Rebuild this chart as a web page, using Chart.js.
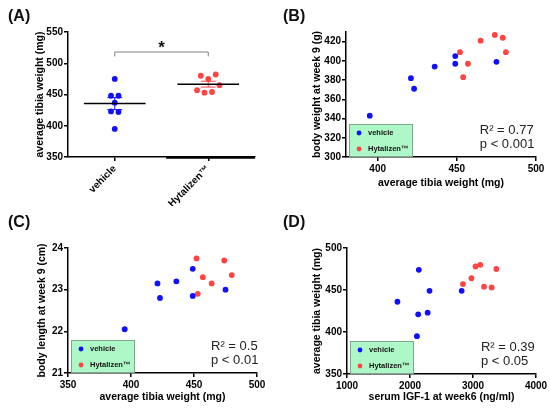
<!DOCTYPE html>
<html>
<head>
<meta charset="utf-8">
<script src="https://cdn.jsdelivr.net/npm/chart.js@4.4.1/dist/chart.umd.min.js"></script>
<style>
  html, body { margin: 0; padding: 0; background: #fff; }
  #wrap { position: relative; width: 550px; height: 413px; overflow: hidden; }
  canvas { position: absolute; }
  .tag { position: absolute; font: bold 16px 'Liberation Sans', Arial, sans-serif; color: #111; }
</style>
</head>
<body>
<div id="wrap">
  <canvas id="chartA" width="275" height="206" style="left:0;top:0"></canvas>
  <canvas id="chartB" width="275" height="206" style="left:275px;top:0"></canvas>
  <canvas id="chartC" width="275" height="207" style="left:0;top:206px"></canvas>
  <canvas id="chartD" width="275" height="207" style="left:275px;top:206px"></canvas>
  <div class="tag" style="left:8px;top:7px">(A)</div>
  <div class="tag" style="left:283px;top:7px">(B)</div>
  <div class="tag" style="left:8px;top:213px">(C)</div>
  <div class="tag" style="left:283px;top:213px">(D)</div>
</div>
<script>
// --- data ---
const groups = ['vehicle', 'Hytalizen™'];

// (A) average tibia weight per animal, with horizontal jitter (category units)
const tibiaVehicleA = [475, 448, 448, 437, 423, 422, 395];
const jitterVehicleA = [0, -0.04, 0.04, 0, -0.04, 0.04, 0];
const tibiaHytalizenA = [480, 475, 482, 457, 453, 454, 465];
const jitterHytalizenA = [-0.08, 0, 0.08, -0.12, -0.04, 0.04, 0.12];
const yTicksA = [350, 400, 450, 500, 550];
const bracketA = [518, 511];   // significance bracket: bar level, leg ends (mg)

// (B) tibia weight vs body weight
const tibiaVehicleB = [395, 421, 423, 436, 449, 449, 475];
const bodyWeightVehicleB = [343, 382, 371, 394, 405, 397, 399];
const tibiaHytalizenB = [452, 457, 454, 465, 474, 479, 481];
const bodyWeightHytalizenB = [409, 397, 383, 421, 427, 424, 409];
const xTicksB = [400, 450, 500];
const yTicksB = [300, 320, 340, 360, 380, 400, 420];
const statsB = ['R² = 0.77', 'p < 0.001'];

// (C) tibia weight vs body length
const tibiaVehicleC = [395, 421, 423, 436, 449, 449, 475];
const bodyLengthVehicleC = [22.05, 23.15, 22.8, 23.2, 23.5, 22.85, 23.0];
const tibiaHytalizenC = [452, 457, 453, 464, 474, 480];
const bodyLengthHytalizenC = [23.75, 23.3, 22.9, 23.15, 23.7, 23.35];
const xTicksC = [350, 400, 450, 500];
const yTicksC = [21, 22, 23, 24];
const statsC = ['R² = 0.5', 'p < 0.01'];

// (D) serum IGF-1 vs tibia weight
const igfVehicleD = [2140, 1800, 2310, 2130, 2280, 2110, 2820];
const tibiaVehicleD = [474, 436, 449, 421, 423, 395, 449];
const igfHytalizenD = [2840, 2975, 3040, 3115, 3175, 3295, 3370];
const tibiaHytalizenD = [457, 464, 478, 480, 454, 453, 475];
const xTicksD = [1000, 2000, 3000, 4000];
const yTicksD = [350, 400, 450, 500];
const statsD = ['R² = 0.39', 'p < 0.05'];

// --- styling ---
const FONT = "'Liberation Sans', Arial, sans-serif";
const BLUE = '#1010ff';
const RED = '#ff4444';
Chart.defaults.font.family = FONT;
Chart.defaults.color = '#000';

const pairs = (xs, ys) => xs.map((x, i) => ({ x, y: ys[i] }));

function axis(horizontal, min, max, tickList, size, titleText, titlePad, labelFn) {
  return {
    type: 'linear',
    min, max,
    border: { display: true, color: '#000', width: 1.5 },
    grid: { display: true, drawOnChartArea: false, drawTicks: true, tickLength: 4, color: '#000', lineWidth: 1.5 },
    ticks: {
      color: '#000',
      font: { size: 10, weight: 'bold' },
      padding: horizontal ? 2 : 1,
      minRotation: labelFn ? 45 : 0,
      maxRotation: labelFn ? 45 : 0,
      callback: labelFn || (v => String(v))
    },
    title: {
      display: !!titleText,
      text: titleText,
      color: '#000',
      font: { size: 10.5, weight: 'bold' },
      padding: horizontal ? { top: 0, bottom: titlePad } : { top: titlePad, bottom: 0 }
    },
    afterBuildTicks: s => { s.ticks = tickList.map(v => ({ value: v })); },
    afterFit: s => { if (horizontal) s.height = size; else s.width = size; }
  };
}

// green legend box in the lower-left corner of the plot
const boxLegend = {
  id: 'boxLegend',
  afterDraw(chart, args, opts) {
    if (!opts.show) return;
    const { ctx, chartArea: ca } = chart;
    const w = 64, h = 33;
    const x = ca.left + 3, y = ca.bottom - h;
    ctx.save();
    ctx.fillStyle = '#aef7c7';
    ctx.fillRect(x, y, w, h);
    ctx.setLineDash([1, 1]);
    ctx.strokeStyle = '#555';
    ctx.lineWidth = 1;
    ctx.strokeRect(x + 0.5, y + 0.5, w - 1, h - 1);
    ctx.setLineDash([]);
    ctx.font = 'bold 7.5px ' + FONT;
    ctx.textBaseline = 'middle';
    chart.data.datasets.forEach((ds, i) => {
      const cy = y + 9 + i * 16;
      ctx.fillStyle = ds.backgroundColor;
      ctx.beginPath();
      ctx.arc(x + 10, cy, 2.4, 0, Math.PI * 2);
      ctx.fill();
      ctx.fillStyle = '#111';
      ctx.fillText(ds.label, x + 19, cy);
    });
    ctx.restore();
  }
};

// R² / p text
const statsText = {
  id: 'statsText',
  afterDraw(chart, args, opts) {
    if (!opts.lines) return;
    const { ctx, chartArea: ca, scales: { x } } = chart;
    const left = x.getPixelForValue(opts.atX);
    ctx.save();
    ctx.font = '13px ' + FONT;
    ctx.fillStyle = '#222';
    ctx.textBaseline = 'middle';
    ctx.fillText(opts.lines[0], left, ca.bottom - 27);
    ctx.fillText(opts.lines[1], left, ca.bottom - 13);
    ctx.restore();
  }
};

// mean ± SEM and significance bracket for panel A
const meanSem = {
  id: 'meanSem',
  afterDatasetsDraw(chart, args, opts) {
    if (!opts.show) return;
    const { ctx, scales: { x, y } } = chart;
    const seg = (x1, y1, x2, y2) => { ctx.beginPath(); ctx.moveTo(x1, y1); ctx.lineTo(x2, y2); ctx.stroke(); };
    ctx.save();
    chart.data.datasets.forEach((ds, i) => {
      const vals = ds.data.map(p => p.y);
      const n = vals.length;
      const mean = vals.reduce((a, b) => a + b, 0) / n;
      const sd = Math.sqrt(vals.reduce((a, b) => a + (b - mean) ** 2, 0) / (n - 1));
      const sem = sd / Math.sqrt(n);
      const c = i + 1;
      ctx.strokeStyle = ds.backgroundColor;
      ctx.lineWidth = 1;
      const xc = x.getPixelForValue(c);
      seg(xc, y.getPixelForValue(mean - sem), xc, y.getPixelForValue(mean + sem));
      [mean - sem, mean + sem].forEach(v => seg(x.getPixelForValue(c - 0.08), y.getPixelForValue(v), x.getPixelForValue(c + 0.08), y.getPixelForValue(v)));
      ctx.strokeStyle = '#000';
      ctx.lineWidth = 1.5;
      const ym = y.getPixelForValue(mean);
      seg(x.getPixelForValue(c - 0.33), ym, x.getPixelForValue(c + 0.33), ym);
    });
    // bracket
    const yb = y.getPixelForValue(bracketA[0]);
    const yl = y.getPixelForValue(bracketA[1]);
    const x1 = x.getPixelForValue(1), x2 = x.getPixelForValue(2);
    ctx.strokeStyle = '#808080';
    ctx.lineWidth = 1;
    ctx.beginPath();
    ctx.moveTo(x1, yl); ctx.lineTo(x1, yb); ctx.lineTo(x2, yb); ctx.lineTo(x2, yl);
    ctx.stroke();
    ctx.fillStyle = '#111';
    ctx.font = 'bold 17px ' + FONT;
    ctx.textAlign = 'center';
    ctx.textBaseline = 'middle';
    ctx.fillText('*', (x1 + x2) / 2, yb - 4);
    // heavier baseline segment under the second group
    ctx.strokeStyle = '#000';
    ctx.lineWidth = 2.5;
    const y0 = y.getPixelForValue(350) + 0.5;
    seg(x.getPixelForValue(1.55), y0, x.getPixelForValue(2.5), y0);
    ctx.restore();
  }
};

Chart.register(boxLegend, statsText, meanSem);

function scatterSets(vx, vy, hx, hy) {
  const common = { pointRadius: 2.9, pointHoverRadius: 2.9, borderWidth: 0 };
  return [
    Object.assign({ label: groups[0], data: pairs(vx, vy), backgroundColor: BLUE, borderColor: BLUE }, common),
    Object.assign({ label: groups[1], data: pairs(hx, hy), backgroundColor: RED, borderColor: RED }, common)
  ];
}

function baseOptions(padding, x, y, plugins) {
  return {
    responsive: false,
    animation: false,
    layout: { padding },
    scales: { x, y },
    plugins: Object.assign({ legend: { display: false }, tooltip: { enabled: false } }, plugins)
  };
}

// (A)
new Chart(document.getElementById('chartA'), {
  type: 'scatter',
  data: {
    datasets: scatterSets(
      tibiaVehicleA.map((_, i) => 1 + jitterVehicleA[i]), tibiaVehicleA,
      tibiaHytalizenA.map((_, i) => 2 + jitterHytalizenA[i]), tibiaHytalizenA)
  },
  options: baseOptions(
    { top: 32, right: 20, left: 0, bottom: 0 },
    axis(true, 0.5, 2.5, [1, 2], 49, '', 0, v => groups[v - 1]),
    axis(false, 350, 550, yTicksA, 68, 'average tibia weight (mg)', 33.5),
    { meanSem: { show: true } }
  )
});

// (B)
new Chart(document.getElementById('chartB'), {
  type: 'scatter',
  data: { datasets: scatterSets(tibiaVehicleB, bodyWeightVehicleB, tibiaHytalizenB, bodyWeightHytalizenB) },
  options: baseOptions(
    { top: 32, right: 14, left: 0, bottom: 0 },
    axis(true, 380, 500, xTicksB, 49, 'average tibia weight (mg)', 17),
    axis(false, 300, 430, yTicksB, 71, 'body weight at week 9 (g)', 36),
    { boxLegend: { show: true }, statsText: { lines: statsB, atX: 464.5 } }
  )
});

// (C)
new Chart(document.getElementById('chartC'), {
  type: 'scatter',
  data: { datasets: scatterSets(tibiaVehicleC, bodyLengthVehicleC, tibiaHytalizenC, bodyLengthHytalizenC) },
  options: baseOptions(
    { top: 42, right: 18, left: 0, bottom: 0 },
    axis(true, 350, 500, xTicksC, 40, 'average tibia weight (mg)', 10),
    axis(false, 21, 24, yTicksC, 68, 'body length at week 9 (cm)', 36),
    { boxLegend: { show: true }, statsText: { lines: statsC, atX: 463.5 } }
  )
});

// (D)
new Chart(document.getElementById('chartD'), {
  type: 'scatter',
  data: { datasets: scatterSets(igfVehicleD, tibiaVehicleD, igfHytalizenD, tibiaHytalizenD) },
  options: baseOptions(
    { top: 42, right: 14, left: 0, bottom: 0 },
    axis(true, 1000, 4000, xTicksD, 39, 'serum IGF-1 at week6 (ng/ml)', 10),
    axis(false, 350, 500, yTicksD, 72, 'average tibia weight (mg)', 36),
    { boxLegend: { show: true }, statsText: { lines: statsD, atX: 3125 } }
  )
});
</script>
</body>
</html>
